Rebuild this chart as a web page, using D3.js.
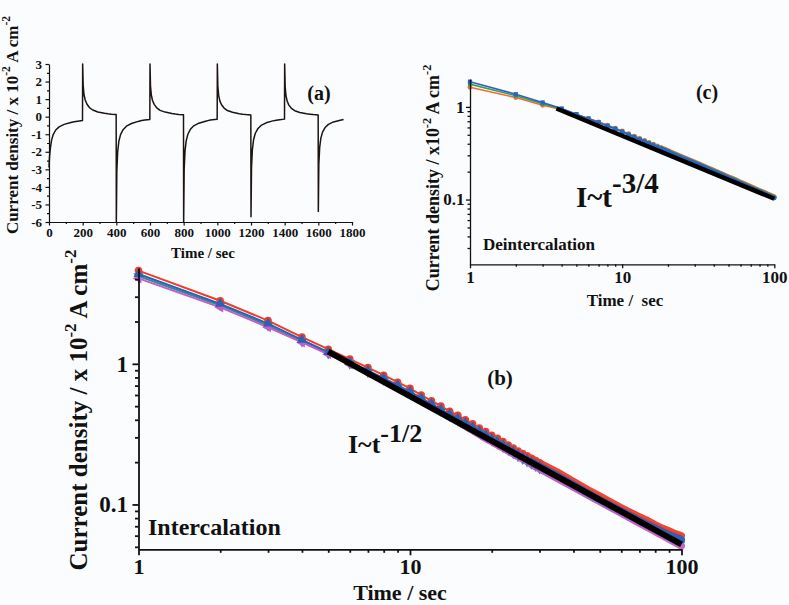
<!DOCTYPE html>
<html><head><meta charset="utf-8">
<script src="https://cdn.jsdelivr.net/npm/d3@7"></script>
<style>
html,body{margin:0;padding:0;background:#fbfcfe;}
svg{display:block;}
text{font-family:"Liberation Serif","Times New Roman",serif;font-weight:bold;fill:#111;}
</style></head><body>
<svg id="chart" width="789" height="605"></svg>
<script>
// ---------- Panel (a): chronoamperometry, step segments ----------
const aSegStart = [0, 200, 400, 600, 800, 1000, 1200, 1400, 1600];
const aOffsets  = [0, 3, 8, 15, 25, 40, 60, 90, 130, 150, 170, 199];
const aSegValues = [
  [-2.9, -2.3, -1.8, -1.35, -1.02, -0.76, -0.58, -0.44, -0.33, -0.29, -0.26, -0.22],
  [3.0, 1.8, 1.25, 0.95, 0.72, 0.52, 0.38, 0.27, 0.19, 0.16, 0.14, 0.12],
  [-6.0, -3.1, -2.0, -1.4, -1.02, -0.74, -0.54, -0.39, -0.27, -0.22, -0.19, -0.16],
  [3.0, 1.75, 1.22, 0.92, 0.7, 0.5, 0.36, 0.26, 0.18, 0.15, 0.13, 0.11],
  [-6.0, -3.0, -1.95, -1.38, -1.0, -0.72, -0.52, -0.37, -0.26, -0.21, -0.18, -0.15],
  [3.0, 1.75, 1.2, 0.9, 0.68, 0.49, 0.35, 0.25, 0.17, 0.14, 0.12, 0.1],
  [-5.7, -2.9, -1.9, -1.33, -0.96, -0.69, -0.5, -0.35, -0.24, -0.2, -0.17, -0.14],
  [3.0, 1.7, 1.18, 0.88, 0.66, 0.47, 0.34, 0.24, 0.16, 0.14, 0.12, 0.1],
  [-5.4, -2.7, -1.75, -1.22, -0.88, -0.62, -0.44, -0.3, -0.2, -0.16]
];
const aXTicks = [0, 200, 400, 600, 800, 1000, 1200, 1400, 1600, 1800];
const aXMinor = [100, 300, 500, 700, 900, 1100, 1300, 1500, 1700];
const aYTicks = [3, 2, 1, 0, -1, -2, -3, -4, -5, -6];
const aYMinor = [2.5, 1.5, 0.5, -0.5, -1.5, -2.5, -3.5, -4.5, -5.5];

// ---------- Panel (b): intercalation, log-log ----------
const timeB = [1,2,3,4,5,6,7,8,9,10,11,12,13,14,15,16,17,18,19,20,21,22,23,24,25,26,27,28,29,30,
               35,40,45,50,55,60,65,70,75,80,85,90,95,100];
const redB = [4.6,2.81,2.03,1.55,1.27,1.08,0.94,0.83,0.74,0.67,
              0.60,0.545,0.50,0.46,0.43,0.40,0.375,0.35,0.33,0.31,
              0.295,0.28,0.265,0.252,0.24,0.23,0.222,0.213,0.205,0.198,
              0.17,0.146,0.128,0.115,0.104,0.095,0.088,0.082,0.077,0.072,0.068,0.065,0.062,0.060];
const blueB = [4.35,2.67,1.93,1.48,1.21,1.03,0.895,0.79,0.705,0.635,
               0.57,0.52,0.475,0.437,0.407,0.38,0.355,0.332,0.313,0.294,
               0.28,0.265,0.251,0.238,0.227,0.217,0.209,0.201,0.193,0.187,
               0.16,0.138,0.121,0.108,0.098,0.09,0.083,0.077,0.072,0.068,0.064,0.061,0.0585,0.0565];
const tealB = [4.2,2.6,1.87,1.44,1.18,1.0,0.87,0.765,0.685,0.615,
               0.555,0.505,0.462,0.425,0.395,0.368,0.344,0.322,0.303,0.285,
               0.27,0.256,0.243,0.231,0.22,0.21,0.202,0.194,0.187,0.18,
               0.155,0.134,0.117,0.105,0.095,0.087,0.08,0.075,0.07,0.066,0.062,0.059,0.0565,0.0545];
const magentaB = [4.05,2.52,1.82,1.42,1.17,0.99,0.86,0.755,0.67,0.6,
                  0.54,0.49,0.45,0.413,0.383,0.356,0.332,0.31,0.291,0.276,
                  0.262,0.249,0.237,0.226,0.217,0.208,0.200,0.192,0.185,0.179,
                  0.152,0.132,0.117,0.1047,0.0947,0.0864,0.0794,0.0734,0.0683,0.0638,0.0599,0.0564,0.0532,0.0505];
const fitBTime = [5, 100];
const fitBValue = [1.22, 0.052];
const bXMajor = [1, 10, 100];
const bXMinor = [2,3,4,5,6,7,8,9,20,30,40,50,60,70,80,90];
const bYMajor = [0.1, 1];
const bYMinor = [0.05,0.06,0.07,0.08,0.09,0.2,0.3,0.4,0.5,0.6,0.7,0.8,0.9,2,3,4];

// ---------- Panel (c): deintercalation, log-log ----------
const timeC = [1,2,3,4,5,6,7,8,9,10,11,12,13,14,15,16,17,18,19,20,
               25,30,35,40,45,50,55,60,65,70,75,80,85,90,95,100];
const orangeC = [1.63,1.26,1.04,0.94,0.83,0.75,0.69,0.635,0.59,0.55,
                 0.513,0.484,0.458,0.435,0.414,0.396,0.379,0.364,0.35,0.338,
                 0.289,0.255,0.229,0.208,0.191,0.177,0.166,0.155,0.147,0.139,0.132,0.126,0.121,0.116,0.112,0.108];
const greenC = [1.76,1.32,1.08,0.95,0.83,0.745,0.683,0.628,0.583,0.543,
                0.506,0.477,0.451,0.428,0.408,0.39,0.373,0.358,0.344,0.332,
                0.284,0.251,0.225,0.204,0.188,0.174,0.163,0.152,0.144,0.136,0.129,0.124,0.119,0.114,0.11,0.106];
const blueC = [1.87,1.37,1.116,0.96,0.835,0.745,0.68,0.623,0.578,0.538,
               0.50,0.471,0.445,0.423,0.403,0.385,0.368,0.353,0.34,0.328,
               0.279,0.247,0.221,0.201,0.185,0.171,0.16,0.15,0.142,0.134,0.127,0.122,0.117,0.112,0.108,0.104];
const fitCTime = [3.7, 100];
const fitCValue = [0.96, 0.102];
const cXMajor = [1, 10, 100];
const cXMinor = [2,3,4,5,6,7,8,9,20,30,40,50,60,70,80,90];
const cYMajor = [0.1, 1];
const cYMinor = [0.03,0.04,0.05,0.06,0.07,0.08,0.09,0.2,0.3,0.4,0.5,0.6,0.7,0.8,0.9];

// ================= drawing =================
const svg = d3.select('#chart');
const INK = '#111';

function drawAxis(g, scale, orient, pos, majors, minors, o) {
  const fn = orient === 'bottom' ? d3.axisBottom : d3.axisLeft;
  const tr = orient === 'bottom' ? `translate(0,${pos})` : `translate(${pos},0)`;
  const mg = g.append('g').attr('transform', tr)
    .call(fn(scale).tickValues(minors).tickFormat('').tickSize(o.minor).tickSizeOuter(0));
  mg.select('.domain').remove();
  mg.selectAll('line').attr('stroke', INK).attr('stroke-width', o.sw);
  const Mg = g.append('g').attr('transform', tr)
    .call(fn(scale).tickValues(majors).tickFormat(d => String(d)).tickSize(o.major).tickPadding(o.pad).tickSizeOuter(0));
  Mg.select('.domain').attr('stroke', INK).attr('stroke-width', o.sw);
  Mg.selectAll('line').attr('stroke', INK).attr('stroke-width', o.sw);
  Mg.selectAll('text').style('font-size', o.fs + 'px')
    .style('font-family', '"Liberation Serif","Times New Roman",serif').style('font-weight', 'bold');
}

function richText(g, parts, x, y, fs, rotate, anchor) {
  const t = g.append('text')
    .attr('transform', `translate(${x},${y})` + (rotate ? ' rotate(-90)' : ''))
    .attr('text-anchor', anchor || 'middle')
    .style('font-size', fs + 'px').style('white-space', 'pre');
  let shifted = 0;
  parts.forEach(p => {
    const ts = t.append('tspan').text(p[0]);
    if (p[1]) {
      const sfs = p[2] || fs * 0.68;
      ts.style('font-size', sfs + 'px');
      const up = p[3] || fs * 0.45;
      ts.attr('dy', -up - shifted);
      shifted = -up;
    } else if (shifted !== 0) {
      ts.attr('dy', -shifted);
      shifted = 0;
    }
  });
  return t;
}

// ---------- Panel (a) ----------
{
  const g = svg.append('g');
  const x = d3.scaleLinear().domain([0, 1800]).range([49, 352]);
  const y = d3.scaleLinear().domain([-6, 3]).range([222, 64]);
  const pts = [];
  aSegStart.forEach((s, i) => {
    aSegValues[i].forEach((v, j) => pts.push({t: s + aOffsets[j], v}));
  });
  g.append('path').datum(pts)
    .attr('d', d3.line().x(d => x(d.t)).y(d => y(d.v)))
    .attr('fill', 'none').attr('stroke', '#1c1410').attr('stroke-width', 1.5)
    .attr('stroke-linejoin', 'round');
  drawAxis(g, x, 'bottom', 222, aXTicks, aXMinor, {minor: 2, major: 3.5, pad: 2.5, sw: 1.2, fs: 13});
  drawAxis(g, y, 'left', 49, aYTicks, aYMinor, {minor: 2, major: 3.5, pad: 3.5, sw: 1.2, fs: 13});
  g.append('text').attr('x', 203).attr('y', 258).attr('text-anchor', 'middle')
    .style('font-size', '15px').text('Time / sec');
  richText(g, [['Current density / x 10'], ['-2', true], [' A cm'], ['-2', true]], 18, 125, 17, true);
  g.append('text').attr('x', 319).attr('y', 100).attr('text-anchor', 'middle')
    .style('font-size', '20px').text('(a)');
}

// ---------- Panel (b) ----------
{
  const g = svg.append('g');
  const x = d3.scaleLog().domain([1, 100]).range([138.5, 681.5]);
  const y = d3.scaleLog().domain([0.048, 4.8]).range([549.3, 268]);
  const line = d3.line().x(d => x(d.t)).y(d => y(d.v));
  const series = [
    {vals: redB, color: '#ee3d2a', sym: d3.symbolCircle, rot: 0},
    {vals: tealB, color: '#2a8d96', sym: d3.symbolTriangle, rot: 180},
    {vals: magentaB, color: '#c45ec6', sym: d3.symbolTriangle, rot: -90},
    {vals: blueB, color: '#2e5fb5', sym: d3.symbolTriangle, rot: 0}
  ];
  series.forEach(s => {
    const pts = timeB.map((t, i) => ({t, v: s.vals[i]}));
    g.append('path').datum(pts).attr('d', line)
      .attr('fill', 'none').attr('stroke', s.color).attr('stroke-width', 2);
    g.append('path').datum(pts.filter(d => d.t >= 28)).attr('d', line)
      .attr('fill', 'none').attr('stroke', s.color).attr('stroke-width', 7)
      .attr('stroke-linecap', 'round').attr('stroke-opacity', 0.95);
    g.selectAll(null).data(pts.filter(d => d.t <= 30)).enter().append('path')
      .attr('d', d3.symbol().type(s.sym).size(45))
      .attr('transform', d => `translate(${x(d.t)},${y(d.v)}) rotate(${s.rot})`)
      .attr('fill', s.color);
  });
  const fit = fitBTime.map((t, i) => ({t, v: fitBValue[i]}));
  g.append('path').datum(fit).attr('d', line)
    .attr('fill', 'none').attr('stroke', '#000').attr('stroke-width', 6);
  drawAxis(g, x, 'bottom', 549.3, bXMajor, bXMinor, {minor: 3.5, major: 6, pad: 3.5, sw: 1.8, fs: 22});
  drawAxis(g, y, 'left', 138.5, bYMajor, bYMinor, {minor: 3.5, major: 6, pad: 4.5, sw: 1.8, fs: 23});
  g.append('text').attr('x', 400).attr('y', 600).attr('text-anchor', 'middle')
    .style('font-size', '22px').text('Time / sec');
  richText(g, [['Current density / x 10'], ['-2', true], [' A cm'], ['-2', true]], 87, 410, 25, true);
  g.append('text').attr('x', 148).attr('y', 535).style('font-size', '24px').text('Intercalation');
  g.append('text').attr('x', 500).attr('y', 385).attr('text-anchor', 'middle')
    .style('font-size', '21px').text('(b)');
  richText(g, [['I~t'], ['-1/2', true, 26, 11]], 348, 453, 26, false, 'start');
}

// ---------- Panel (c) ----------
{
  const g = svg.append('g');
  const x = d3.scaleLog().domain([1, 100]).range([470, 774.3]);
  const y = d3.scaleLog().domain([0.02, 2]).range([264.3, 79]);
  const line = d3.line().x(d => x(d.t)).y(d => y(d.v));
  const series = [
    {vals: orangeC, color: '#f26b33', sym: d3.symbolCircle},
    {vals: greenC, color: '#3c9d4c', sym: d3.symbolSquare},
    {vals: blueC, color: '#2c62c4', sym: d3.symbolSquare}
  ];
  series.forEach(s => {
    const pts = timeC.map((t, i) => ({t, v: s.vals[i]}));
    g.append('path').datum(pts).attr('d', line)
      .attr('fill', 'none').attr('stroke', s.color).attr('stroke-width', 1.6);
    g.append('path').datum(pts.filter(d => d.t >= 18)).attr('d', line)
      .attr('fill', 'none').attr('stroke', s.color).attr('stroke-width', 4.5)
      .attr('stroke-linecap', 'round');
    g.selectAll(null).data(pts.filter(d => d.t <= 20)).enter().append('path')
      .attr('d', d3.symbol().type(s.sym).size(18))
      .attr('transform', d => `translate(${x(d.t)},${y(d.v)})`)
      .attr('fill', s.color);
  });
  const fit = fitCTime.map((t, i) => ({t, v: fitCValue[i]}));
  g.append('path').datum(fit).attr('d', line)
    .attr('fill', 'none').attr('stroke', '#000').attr('stroke-width', 4.5);
  drawAxis(g, x, 'bottom', 264.3, cXMajor, cXMinor, {minor: 2.5, major: 4, pad: 3, sw: 1.3, fs: 17});
  drawAxis(g, y, 'left', 470, cYMajor, cYMinor, {minor: 2.5, major: 4, pad: 1.5, sw: 1.3, fs: 17});
  g.append('text').attr('x', 625).attr('y', 306).attr('text-anchor', 'middle')
    .style('font-size', '17px').style('white-space', 'pre').text('Time /  sec');
  richText(g, [['Current density / x10'], ['-2', true], [' A cm'], ['-2', true]], 439, 178, 18, true);
  g.append('text').attr('x', 483).attr('y', 250).style('font-size', '17px').text('Deintercalation');
  g.append('text').attr('x', 707).attr('y', 99).attr('text-anchor', 'middle')
    .style('font-size', '20px').text('(c)');
  richText(g, [['I~t'], ['-3/4', true, 29, 14]], 576, 207, 29, false, 'start');
}
</script>
</body></html>
